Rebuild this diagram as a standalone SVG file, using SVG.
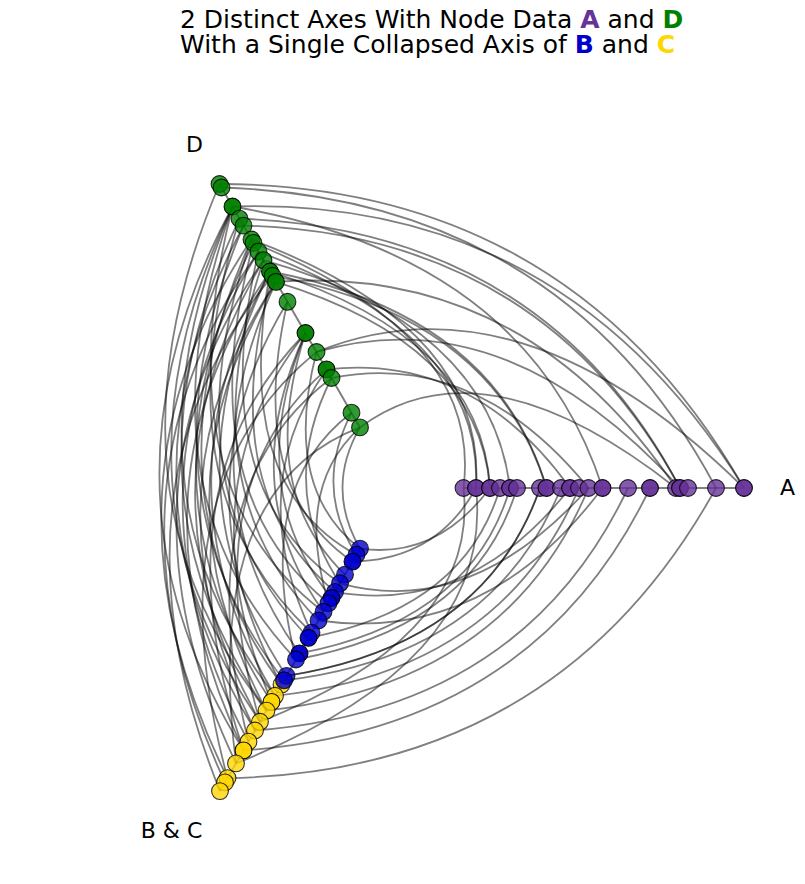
<svg xmlns="http://www.w3.org/2000/svg" width="805" height="884" viewBox="0 0 805 884">
<style>
text{font-family:"DejaVu Sans","Liberation Sans",sans-serif;fill:#000}
.title{font-size:25px}
.lab{font-size:22px;text-anchor:middle}
.axis{stroke:#808080;stroke-width:2;fill:none}
.e{stroke:#000;stroke-opacity:0.5;stroke-width:1.8;fill:none}
circle{r:8.4;stroke:#000;stroke-width:1.1;stroke-opacity:0.8;fill-opacity:0.8}
.na circle{fill:#663399}
.nd circle{fill:#008000}
.nb circle{fill:#0000CD}
.nc circle{fill:#FFD700}
circle.dup{fill-opacity:0.96;stroke-opacity:0.96}
</style>
<rect width="805" height="884" fill="#fff"/>
<g id="title">
<text class="title" x="180" y="28">2 Distinct Axes With Node Data <tspan font-weight="bold" fill="#663399">A</tspan> and <tspan font-weight="bold" fill="#008000">D</tspan></text>
<text class="title" x="180" y="53">With a Single Collapsed Axis of <tspan font-weight="bold" fill="#0000CD">B</tspan> and <tspan font-weight="bold" fill="#FFD700">C</tspan></text>
</g>
<g id="axes">
<line class="axis" x1="463.5" y1="488" x2="744" y2="488"/>
<line class="axis" x1="360" y1="427.4" x2="219.5" y2="184"/>
<line class="axis" x1="360" y1="548.6" x2="220" y2="791.1"/>
</g>
<g id="connectors">
<path class="e" d="M219.5,184 Q570,184.9 744,488"/>
<path class="e" d="M232.5,206.5 Q563.5,196.2 744,488"/>
<path class="e" d="M221.5,187.5 Q562,198.8 716,488"/>
<path class="e" d="M239.5,218.7 Q544,229.9 680,488"/>
<path class="e" d="M243.5,225.6 Q542,233.4 680,488"/>
<path class="e" d="M232.5,206.5 Q528.1,257.4 602.5,488"/>
<path class="e" d="M276,281.9 Q524.8,263.3 676,488"/>
<path class="e" d="M316.5,352 Q521.5,268.9 744,488"/>
<path class="e" d="M360,427.4 Q482.8,336 676,488"/>
<path class="e" d="M331.5,378 Q475.1,349.2 588.5,488"/>
<path class="e" d="M326.5,369.4 Q473,352.9 570,488"/>
<path class="e" d="M270,271.5 Q495.4,314.1 546.5,488"/>
<path class="e" d="M272.5,275.8 Q494.1,316.3 546.5,488"/>
<path class="e" d="M263.5,260.2 Q489.5,324.3 510,488"/>
<path class="e" d="M270,271.5 Q481.3,338.6 490,488"/>
<path class="e" d="M276,281.9 Q478.3,343.8 490,488"/>
<path class="e" d="M251.5,239.5 Q487,328.7 476,488"/>
<path class="e" d="M258.5,251.6 Q483.5,334.7 476,488"/>
<path class="e" d="M253.5,242.9 Q482.9,335.8 463.5,488"/>
<path class="e" d="M316.5,352 Q505.5,296.6 680,488"/>
<path class="e" d="M219.5,184 Q91,488 266.5,710.6"/>
<path class="e" d="M232.5,206.5 Q133.5,488 296,659.5"/>
<path class="e" d="M232.5,206.5 Q112.5,488 275,695.8"/>
<path class="e" d="M232.5,206.5 Q97.5,488 260,721.8"/>
<path class="e" d="M232.5,206.5 Q81,488 243.5,750.4"/>
<path class="e" d="M232.5,206.5 Q161,488 323.5,611.8"/>
<path class="e" d="M239.5,218.7 Q111,488 266.5,710.6"/>
<path class="e" d="M239.5,218.7 Q156,488 311.5,632.6"/>
<path class="e" d="M243.5,225.6 Q103.5,488 255,730.5"/>
<path class="e" d="M243.5,225.6 Q132.5,488 284,680.3"/>
<path class="e" d="M251.5,239.5 Q138,488 281.5,684.6"/>
<path class="e" d="M251.5,239.5 Q165,488 308.5,637.8"/>
<path class="e" d="M251.5,239.5 Q84,488 227.5,778.1"/>
<path class="e" d="M253.5,242.9 Q187,488 328.5,603.2"/>
<path class="e" d="M253.5,242.9 Q130,488 271.5,701.9"/>
<path class="e" d="M258.5,251.6 Q203.5,488 340,583.3"/>
<path class="e" d="M258.5,251.6 Q112,488 248.5,741.7"/>
<path class="e" d="M258.5,251.6 Q88.5,488 225,782.4"/>
<path class="e" d="M263.5,260.2 Q187,488 318.5,620.5"/>
<path class="e" d="M263.5,260.2 Q128.5,488 260,721.8"/>
<path class="e" d="M263.5,260.2 Q104.5,488 236,763.4"/>
<path class="e" d="M270,271.5 Q231.5,488 356.5,554.7"/>
<path class="e" d="M270,271.5 Q161.5,488 286.5,675.9"/>
<path class="e" d="M270,271.5 Q150,488 275,695.8"/>
<path class="e" d="M270,271.5 Q118.5,488 243.5,750.4"/>
<path class="e" d="M272.5,275.8 Q212.5,488 335,591.9"/>
<path class="e" d="M272.5,275.8 Q97.5,488 220,791.1"/>
<path class="e" d="M276,281.9 Q180.5,488 299.5,653.4"/>
<path class="e" d="M276,281.9 Q147.5,488 266.5,710.6"/>
<path class="e" d="M276,281.9 Q136,488 255,730.5"/>
<path class="e" d="M287.5,301.8 Q245,488 352.5,561.6"/>
<path class="e" d="M287.5,301.8 Q174,488 281.5,684.6"/>
<path class="e" d="M305.5,333 Q255.5,488 345,574.6"/>
<path class="e" d="M305.5,333 Q242,488 331.5,598"/>
<path class="e" d="M305.5,333 Q234,488 323.5,611.8"/>
<path class="e" d="M305.5,333 Q182,488 271.5,701.9"/>
<path class="e" d="M305.5,333 Q154,488 243.5,750.4"/>
<path class="e" d="M316.5,352 Q281.5,488 360,548.6"/>
<path class="e" d="M316.5,352 Q149,488 227.5,778.1"/>
<path class="e" d="M326.5,369.4 Q243,488 311.5,632.6"/>
<path class="e" d="M326.5,369.4 Q191.5,488 260,721.8"/>
<path class="e" d="M331.5,378 Q276.5,488 340,583.3"/>
<path class="e" d="M331.5,378 Q185,488 248.5,741.7"/>
<path class="e" d="M351.5,412.7 Q313,488 356.5,554.7"/>
<path class="e" d="M351.5,412.7 Q252.5,488 296,659.5"/>
<path class="e" d="M360,427.4 Q325,488 360,548.6"/>
<path class="e" d="M360,427.4 Q293.5,488 328.5,603.2"/>
<path class="e" d="M360,427.4 Q201,488 236,763.4"/>
<path class="e" d="M716,488 Q559,772 227.5,778.1"/>
<path class="e" d="M650,488 Q534.5,729.6 243.5,750.4"/>
<path class="e" d="M628,488 Q523.3,710.1 255,730.5"/>
<path class="e" d="M588.5,488 Q507.6,683.1 266.5,710.6"/>
<path class="e" d="M579,488 Q501,671.6 275,695.8"/>
<path class="e" d="M561,488 Q492,656 284,680.3"/>
<path class="e" d="M540,488 Q485.5,644.7 286.5,675.9"/>
<path class="e" d="M540,488 Q485.5,644.7 286.5,675.9"/>
<path class="e" d="M602.5,488 Q485.1,644.1 318.5,620.5"/>
<path class="e" d="M588.5,488 Q470.9,619.4 340,583.3"/>
<path class="e" d="M570,488 Q468.8,615.7 335,591.9"/>
<path class="e" d="M490,488 Q436.3,559.4 360,548.6"/>
<path class="e" d="M476,488 Q436.5,559.9 352.5,561.6"/>
<path class="e" d="M463.5,488 Q479.6,634.6 260,721.8"/>
<path class="e" d="M476,488 Q494.8,660.8 236,763.4"/>
<path class="e" d="M500,488 Q464.5,608.4 308.5,637.8"/>
<path class="e" d="M510,488 Q471.5,620.5 299.5,653.4"/>
<path class="e" d="M517,488 Q475,626.6 296,659.5"/>
</g>
<g class="na">
<g id="a1"><circle cx="463.5" cy="488"/></g>
<g id="a2"><circle class="dup" cx="476" cy="488"/></g>
<g id="a3"><circle class="dup" cx="490" cy="488"/></g>
<g id="a4"><circle cx="500" cy="488"/></g>
<g id="a5"><circle class="dup" cx="510" cy="488"/></g>
<g id="a6"><circle cx="517" cy="488"/></g>
<g id="a7"><circle cx="540" cy="488"/></g>
<g id="a8"><circle class="dup" cx="546.5" cy="488"/></g>
<g id="a9"><circle cx="561" cy="488"/></g>
<g id="a10"><circle class="dup" cx="570" cy="488"/></g>
<g id="a11"><circle cx="579" cy="488"/></g>
<g id="a12"><circle cx="588.5" cy="488"/></g>
<g id="a13"><circle class="dup" cx="602.5" cy="488"/></g>
<g id="a14"><circle cx="628" cy="488"/></g>
<g id="a15"><circle class="dup" cx="650" cy="488"/></g>
<g id="a16"><circle cx="676" cy="488"/></g>
<g id="a17"><circle class="dup" cx="680" cy="488"/></g>
<g id="a18"><circle cx="688" cy="488"/></g>
<g id="a19"><circle cx="716" cy="488"/></g>
<g id="a20"><circle class="dup" cx="744" cy="488"/></g>
</g>
<g class="nd">
<g id="d1"><circle cx="219.5" cy="184"/></g>
<g id="d2"><circle cx="221.5" cy="187.5"/></g>
<g id="d3"><circle class="dup" cx="232.5" cy="206.5"/></g>
<g id="d4"><circle cx="239.5" cy="218.7"/></g>
<g id="d5"><circle cx="243.5" cy="225.6"/></g>
<g id="d6"><circle cx="251.5" cy="239.5"/></g>
<g id="d7"><circle cx="253.5" cy="242.9"/></g>
<g id="d8"><circle cx="258.5" cy="251.6"/></g>
<g id="d9"><circle cx="263.5" cy="260.2"/></g>
<g id="d10"><circle class="dup" cx="270" cy="271.5"/></g>
<g id="d11"><circle cx="272.5" cy="275.8"/></g>
<g id="d12"><circle class="dup" cx="276" cy="281.9"/></g>
<g id="d13"><circle cx="287.5" cy="301.8"/></g>
<g id="d14"><circle class="dup" cx="305.5" cy="333"/></g>
<g id="d15"><circle cx="316.5" cy="352"/></g>
<g id="d16"><circle class="dup" cx="326.5" cy="369.4"/></g>
<g id="d17"><circle cx="331.5" cy="378"/></g>
<g id="d18"><circle cx="351.5" cy="412.7"/></g>
<g id="d19"><circle cx="360" cy="427.4"/></g>
</g>
<g class="nc">
<g id="c1"><circle cx="281.5" cy="684.6"/></g>
<g id="c2"><circle cx="275" cy="695.8"/></g>
<g id="c3"><circle class="dup" cx="271.5" cy="701.9"/></g>
<g id="c4"><circle cx="266.5" cy="710.6"/></g>
<g id="c5"><circle cx="260" cy="721.8"/></g>
<g id="c6"><circle cx="255" cy="730.5"/></g>
<g id="c7"><circle cx="248.5" cy="741.7"/></g>
<g id="c8"><circle class="dup" cx="243.5" cy="750.4"/></g>
<g id="c9"><circle cx="236" cy="763.4"/></g>
<g id="c10"><circle cx="227.5" cy="778.1"/></g>
<g id="c11"><circle cx="225" cy="782.4"/></g>
<g id="c12"><circle cx="220" cy="791.1"/></g>
</g>
<g class="nb">
<g id="b1"><circle cx="360" cy="548.6"/></g>
<g id="b2"><circle cx="356.5" cy="554.7"/></g>
<g id="b3"><circle class="dup" cx="352.5" cy="561.6"/></g>
<g id="b4"><circle cx="345" cy="574.6"/></g>
<g id="b5"><circle cx="340" cy="583.3"/></g>
<g id="b6"><circle cx="335" cy="591.9"/></g>
<g id="b7"><circle class="dup" cx="331.5" cy="598"/></g>
<g id="b8"><circle cx="328.5" cy="603.2"/></g>
<g id="b9"><circle cx="323.5" cy="611.8"/></g>
<g id="b10"><circle cx="318.5" cy="620.5"/></g>
<g id="b11"><circle cx="311.5" cy="632.6"/></g>
<g id="b12"><circle class="dup" cx="308.5" cy="637.8"/></g>
<g id="b13"><circle class="dup" cx="299.5" cy="653.4"/></g>
<g id="b14"><circle cx="296" cy="659.5"/></g>
<g id="b15"><circle cx="286.5" cy="675.9"/></g>
<g id="b16"><circle cx="284" cy="680.3"/></g>
</g>
<g id="labels">
<text class="lab" x="787.5" y="495">A</text>
<text class="lab" x="194.5" y="152">D</text>
<text class="lab" x="171.5" y="838">B &amp; C</text>
</g>
</svg>
